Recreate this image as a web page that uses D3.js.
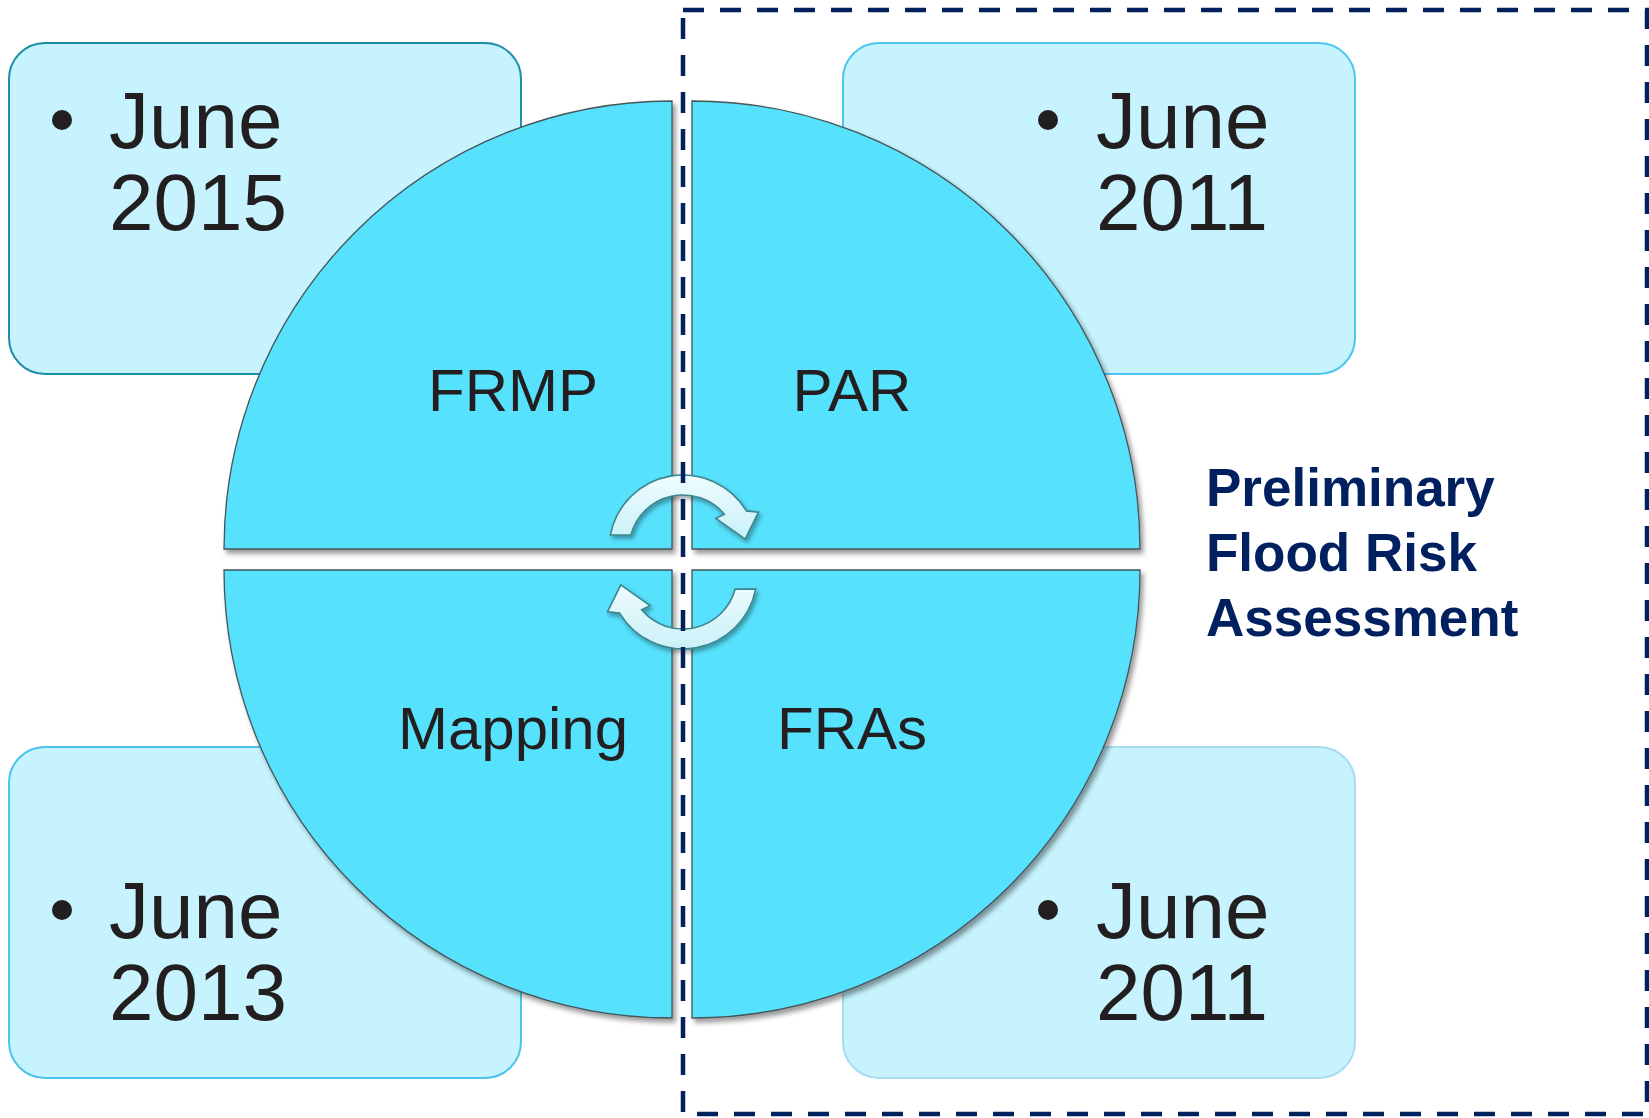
<!DOCTYPE html>
<html><head><meta charset="utf-8">
<script src="https://cdn.jsdelivr.net/npm/d3@7"></script>
<style>html,body{margin:0;padding:0;background:#fff;} svg{display:block;}</style>
</head><body>
<svg id="c" width="1649" height="1118"></svg>
<script>
// ---- data (clockwise from top-right) ----
const quadrantLabels = ["PAR", "FRAs", "Mapping", "FRMP"];
const dateMonths = ["June", "June", "June", "June"];
const dateYears = ["2011", "2011", "2013", "2015"];
const groupTitle = ["Preliminary", "Flood Risk", "Assessment"];
const quadrantSlots = ["tr", "br", "bl", "tl"];

// ---- layout ----
const W = 1649, H = 1118;
const svg = d3.select("#c");
const FONT = "'Liberation Sans', Arial, Helvetica, sans-serif";
const R = 448;
const corners = { tr: [692, 549], br: [692, 570], bl: [672, 570], tl: [672, 549] };
const angles = { tr: [0, Math.PI / 2], br: [Math.PI / 2, Math.PI], bl: [Math.PI, 1.5 * Math.PI], tl: [1.5 * Math.PI, 2 * Math.PI] };
const boxPos = { tr: [843, 43], br: [843, 747], bl: [9, 747], tl: [9, 43] };
const boxStroke = { tr: "#4cc6ee", br: "#a9dcf0", bl: "#49c3ee", tl: "#1d8ea6" };
const boxW = 512, boxH = 331;

const defs = svg.append("defs");
const f = defs.append("filter").attr("id", "sh").attr("x", "-10%").attr("y", "-10%").attr("width", "130%").attr("height", "130%");
f.append("feDropShadow").attr("dx", 3).attr("dy", 4).attr("stdDeviation", 2.5).attr("flood-color", "#000").attr("flood-opacity", 0.4);
const f2 = defs.append("filter").attr("id", "sh2").attr("x", "-20%").attr("y", "-20%").attr("width", "150%").attr("height", "150%");
f2.append("feDropShadow").attr("dx", 2).attr("dy", 3).attr("stdDeviation", 2).attr("flood-color", "#000").attr("flood-opacity", 0.35);
const g = defs.append("linearGradient").attr("id", "ag").attr("x1", 0).attr("y1", 0).attr("x2", 0).attr("y2", 1);
g.append("stop").attr("offset", "0%").attr("stop-color", "#eefcfe");
g.append("stop").attr("offset", "100%").attr("stop-color", "#c9f1f8");

// boxes
const idx = d3.range(quadrantSlots.length);
svg.selectAll("rect.box").data(idx).join("rect").attr("class", "box")
  .attr("x", i => boxPos[quadrantSlots[i]][0]).attr("y", i => boxPos[quadrantSlots[i]][1])
  .attr("width", boxW).attr("height", boxH).attr("rx", 36).attr("ry", 36)
  .attr("fill", "#c6f3fd").attr("stroke", i => boxStroke[quadrantSlots[i]]).attr("stroke-width", 2);

// box texts
idx.forEach(i => {
  const s = quadrantSlots[i];
  const [bx, by] = boxPos[s];
  const left = s === "tl" || s === "bl";
  const top = s === "tl" || s === "tr";
  const bulX = bx + (left ? 53 : 205);
  const txtX = bx + (left ? 100 : 253);
  const b1 = by + (top ? 105 : 191);
  svg.append("circle").attr("cx", bulX).attr("cy", b1 - 28).attr("r", 10).attr("fill", "#231f20");
  const t = svg.append("text").attr("font-family", FONT).attr("font-size", 80).attr("fill", "#231f20");
  t.append("tspan").attr("x", txtX).attr("y", b1).text(dateMonths[i]);
  t.append("tspan").attr("x", txtX).attr("y", b1 + 82).text(dateYears[i]);
});

// quadrants
const arc = d3.arc().innerRadius(0).outerRadius(R);
svg.selectAll("path.q").data(idx).join("path").attr("class", "q")
  .attr("transform", i => `translate(${corners[quadrantSlots[i]]})`)
  .attr("d", i => arc({ startAngle: angles[quadrantSlots[i]][0], endAngle: angles[quadrantSlots[i]][1] }))
  .attr("fill", "#57e1fd").attr("stroke", "#44545a").attr("stroke-width", 1.3)
  .attr("filter", "url(#sh)");

// quadrant labels
const labelPos = { tl: [513, 411], tr: [852, 411], bl: [513, 749], br: [852, 749] };
svg.selectAll("text.ql").data(idx).join("text").attr("class", "ql")
  .attr("x", i => labelPos[quadrantSlots[i]][0]).attr("y", i => labelPos[quadrantSlots[i]][1])
  .attr("text-anchor", "middle").attr("font-family", FONT).attr("font-size", 60).attr("fill", "#231f20")
  .text(i => quadrantLabels[i]);

// circular arrows
function P(cx, cy, r, deg) { const a = deg * Math.PI / 180; return [cx + r * Math.cos(a), cy + r * Math.sin(a)]; }
function arrow(cx, cy, rot) {
  const rO = 74, rI = 54;
  const p = d3.path();
  const a = d => (d + rot) * Math.PI / 180;
  let q = P(cx, cy, rO, -169 + rot); p.moveTo(q[0], q[1]);
  p.arc(cx, cy, rO, a(-169), a(-31), false);
  q = P(cx, cy, 84, -26 + rot); p.lineTo(q[0], q[1]);
  q = P(cx, cy, 63, -9 + rot); p.lineTo(q[0], q[1]);
  q = P(cx, cy, 45, -43 + rot); p.lineTo(q[0], q[1]);
  q = P(cx, cy, rI, -40 + rot); p.lineTo(q[0], q[1]);
  p.arc(cx, cy, rI, a(-40), a(-165), true);
  p.closePath();
  return p.toString();
}
const arrowSpecs = [[683, 549, 0], [683, 575, 180]];
svg.selectAll("path.ar").data(arrowSpecs).join("path").attr("class", "ar")
  .attr("d", d => arrow(d[0], d[1], d[2]))
  .attr("fill", "url(#ag)").attr("stroke", "#3b858c").attr("stroke-width", 1.6)
  .attr("stroke-linejoin", "miter").attr("filter", "url(#sh2)");

// dashed group rectangle
svg.append("rect").attr("x", 683).attr("y", 10).attr("width", 964).attr("height", 1104)
  .attr("fill", "none").attr("stroke", "#002060").attr("stroke-width", 4.5).attr("stroke-dasharray", "21 16");

// group title
const gt = svg.append("text").attr("font-family", FONT).attr("font-size", 53).attr("font-weight", "bold").attr("fill", "#002060");
groupTitle.forEach((s, i) => gt.append("tspan").attr("x", 1206).attr("y", 506 + i * 65).text(s));
</script>
</body></html>
